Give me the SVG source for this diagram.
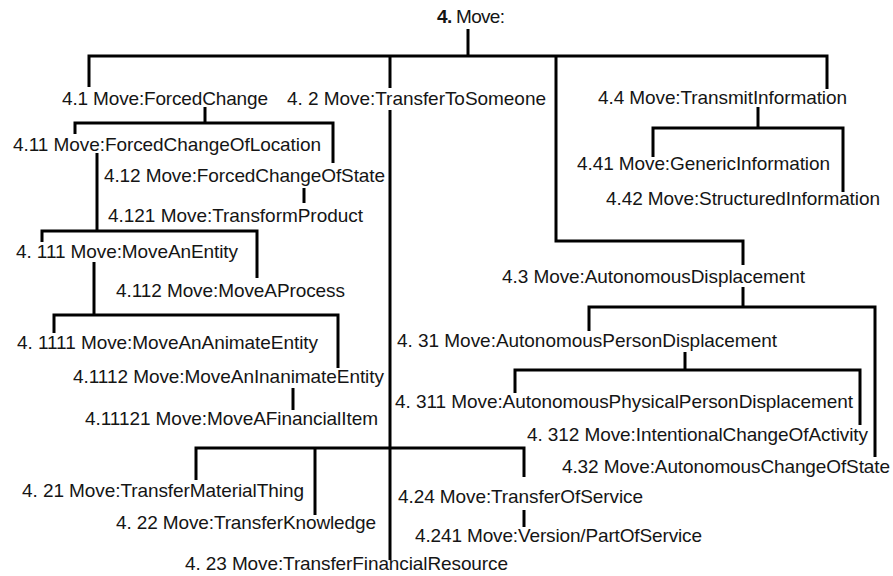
<svg xmlns="http://www.w3.org/2000/svg" width="893" height="576" viewBox="0 0 893 576">
  <style>
    text { font-family: "Liberation Sans", Arial, sans-serif; font-size: 19px; fill: #151515; }
    .links path { fill: none; stroke: #000; stroke-width: 3; stroke-linejoin: miter; stroke-linecap: butt; }
  </style>
  <rect width="893" height="576" fill="#fff"/>

  <!-- tree connectors -->
  <g class="links" id="connectors">
    <!-- root fan-out -->
    <path d="M468,29 V56"/>
    <path d="M89,87 V56 H827 V89"/>
    <path d="M390,56 V88"/>
    <path d="M556,56 V241 H743 V265"/>
    <!-- 4.1 -->
    <path d="M205,107 V123"/>
    <path d="M75,134 V123 H333 V163"/>
    <!-- 4.11 -->
    <path d="M97,153 V231"/>
    <path d="M42,242 V231 H257 V278"/>
    <!-- 4.12 -->
    <path d="M304,188 V203"/>
    <!-- 4.111 -->
    <path d="M94,262 V315"/>
    <path d="M54,333 V315 H338 V368"/>
    <!-- 4.1112 -->
    <path d="M293,388 V410"/>
    <!-- 4.4 -->
    <path d="M758,107 V128"/>
    <path d="M653,157 V128 H843 V192"/>
    <!-- 4.3 -->
    <path d="M743,287 V307"/>
    <path d="M589,331 V307 H875 V457"/>
    <!-- 4.31 -->
    <path d="M685,352 V370"/>
    <path d="M515,393 V370 H860 V425"/>
    <!-- 4.2 -->
    <path d="M390,110 V560"/>
    <path d="M196,480 V448 H524 V477"/>
    <path d="M315,448 V515"/>
    <!-- 4.24 -->
    <path d="M524,510 V527"/>
  </g>

  <g id="n4"><text x="437" y="23" textLength="68" lengthAdjust="spacing"><tspan font-weight="bold">4.</tspan> Move:</text></g>
  <g id="n4_1"><text x="62" y="105" textLength="206" lengthAdjust="spacing">4.1 Move:ForcedChange</text></g>
  <g id="n4_2"><text x="287" y="105" textLength="259" lengthAdjust="spacing">4. 2 Move:TransferToSomeone</text></g>
  <g id="n4_4"><text x="598" y="104" textLength="249" lengthAdjust="spacing">4.4 Move:TransmitInformation</text></g>
  <g id="n4_11"><text x="13" y="151" textLength="308" lengthAdjust="spacing">4.11 Move:ForcedChangeOfLocation</text></g>
  <g id="n4_12"><text x="104" y="182" textLength="281" lengthAdjust="spacing">4.12 Move:ForcedChangeOfState</text></g>
  <g id="n4_121"><text x="108" y="222" textLength="255" lengthAdjust="spacing">4.121 Move:TransformProduct</text></g>
  <g id="n4_41"><text x="577" y="170" textLength="253" lengthAdjust="spacing">4.41 Move:GenericInformation</text></g>
  <g id="n4_42"><text x="606" y="205" textLength="274" lengthAdjust="spacing">4.42 Move:StructuredInformation</text></g>
  <g id="n4_111"><text x="16" y="258" textLength="222" lengthAdjust="spacing">4. 111 Move:MoveAnEntity</text></g>
  <g id="n4_112"><text x="116" y="297" textLength="229" lengthAdjust="spacing">4.112 Move:MoveAProcess</text></g>
  <g id="n4_3"><text x="502" y="283" textLength="303" lengthAdjust="spacing">4.3 Move:AutonomousDisplacement</text></g>
  <g id="n4_31"><text x="397" y="347" textLength="380" lengthAdjust="spacing">4. 31 Move:AutonomousPersonDisplacement</text></g>
  <g id="n4_1111"><text x="17" y="349" textLength="301" lengthAdjust="spacing">4. 1111 Move:MoveAnAnimateEntity</text></g>
  <g id="n4_1112"><text x="73" y="383" textLength="311" lengthAdjust="spacing">4.1112 Move:MoveAnInanimateEntity</text></g>
  <g id="n4_11121"><text x="85" y="425" textLength="293" lengthAdjust="spacing">4.11121 Move:MoveAFinancialItem</text></g>
  <g id="n4_311"><text x="395" y="408" textLength="458" lengthAdjust="spacing">4. 311 Move:AutonomousPhysicalPersonDisplacement</text></g>
  <g id="n4_312"><text x="527" y="441" textLength="341" lengthAdjust="spacing">4. 312 Move:IntentionalChangeOfActivity</text></g>
  <g id="n4_32"><text x="562" y="473" textLength="328" lengthAdjust="spacing">4.32 Move:AutonomousChangeOfState</text></g>
  <g id="n4_21"><text x="22" y="497" textLength="282" lengthAdjust="spacing">4. 21 Move:TransferMaterialThing</text></g>
  <g id="n4_24"><text x="398" y="503" textLength="245" lengthAdjust="spacing">4.24 Move:TransferOfService</text></g>
  <g id="n4_22"><text x="116" y="529" textLength="260" lengthAdjust="spacing">4. 22 Move:TransferKnowledge</text></g>
  <g id="n4_241"><text x="415" y="542" textLength="287" lengthAdjust="spacing">4.241 Move:Version/PartOfService</text></g>
  <g id="n4_23"><text x="185" y="570" textLength="323" lengthAdjust="spacing">4. 23 Move:TransferFinancialResource</text></g>
</svg>
